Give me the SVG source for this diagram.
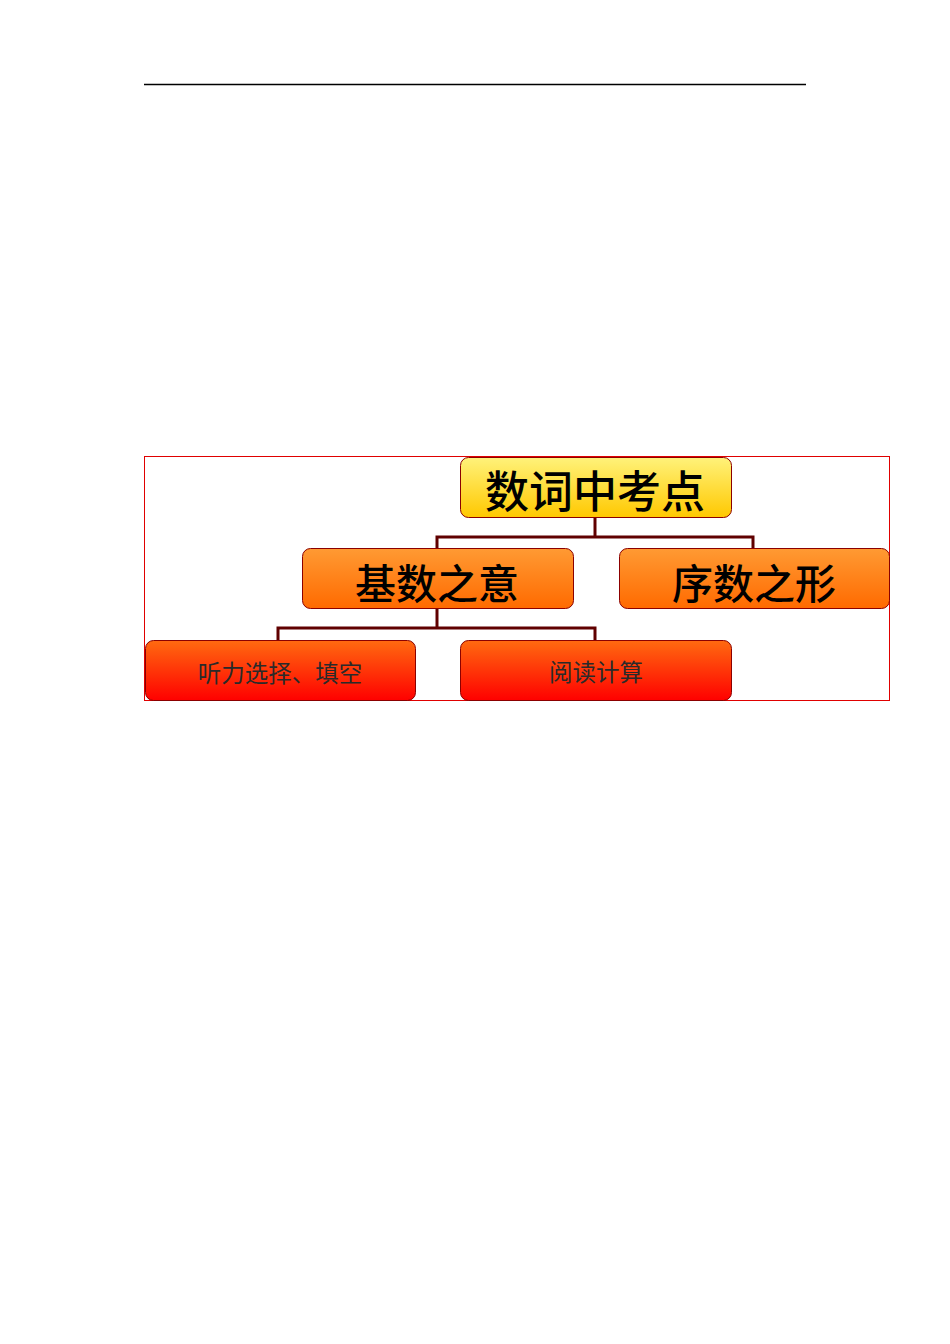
<svg xmlns="http://www.w3.org/2000/svg" width="950" height="1344" viewBox="0 0 950 1344">
<defs>
<linearGradient id="gY" x1="0" y1="0" x2="0" y2="1"><stop offset="0" stop-color="#FFF27A"/><stop offset="1" stop-color="#FFC800"/></linearGradient>
<linearGradient id="gO" x1="0" y1="0" x2="0" y2="1"><stop offset="0" stop-color="#FF9A33"/><stop offset="1" stop-color="#FF6A00"/></linearGradient>
<linearGradient id="gR" x1="0" y1="0" x2="0" y2="1"><stop offset="0" stop-color="#FF6A10"/><stop offset="1" stop-color="#FF0000"/></linearGradient>
</defs>
<style>
.box{stroke:#8B0000;stroke-width:1}
.big{font-family:"Noto Sans CJK SC",sans-serif;font-weight:500;font-size:41px;fill:#000;text-anchor:middle;dominant-baseline:central}
.top{font-size:44px}
.small{font-family:"Noto Sans CJK SC",sans-serif;font-weight:400;font-size:23.5px;fill:#2a2a2a;text-anchor:middle;dominant-baseline:central}
.conn{fill:none;stroke:#600000;stroke-width:3}
</style>
<rect width="950" height="1344" fill="#fff"/>
<line x1="144" y1="84.5" x2="806" y2="84.5" stroke="#000" stroke-width="1.3"/>
<rect x="144.5" y="456.5" width="745" height="244" fill="none" stroke="#E00000" stroke-width="1"/>
<g id="connectors">
<polyline class="conn" points="595,517 595,537"/>
<polyline class="conn" points="437,548 437,537 753,537 753,548"/>
<polyline class="conn" points="437,609 437,628"/>
<polyline class="conn" points="278,640 278,628 595,628 595,640"/>
</g>
<g id="n1"><rect class="box" x="460.5" y="457.5" width="271" height="60" rx="8" fill="url(#gY)"/><text class="big top" x="595" y="489">数词中考点</text></g>
<g id="n2"><rect class="box" x="302.5" y="548.5" width="271" height="60" rx="8" fill="url(#gO)"/><text class="big" x="437" y="581">基数之意</text></g>
<g id="n3"><rect class="box" x="619.5" y="548.5" width="270" height="60" rx="8" fill="url(#gO)"/><text class="big" x="754" y="581">序数之形</text></g>
<g id="n4"><rect class="box" x="145.5" y="640.5" width="270" height="60" rx="8" fill="url(#gR)"/><text class="small" x="280" y="672">听力选择、填空</text></g>
<g id="n5"><rect class="box" x="460.5" y="640.5" width="271" height="60" rx="8" fill="url(#gR)"/><text class="small" x="596" y="671">阅读计算</text></g>
</svg>
